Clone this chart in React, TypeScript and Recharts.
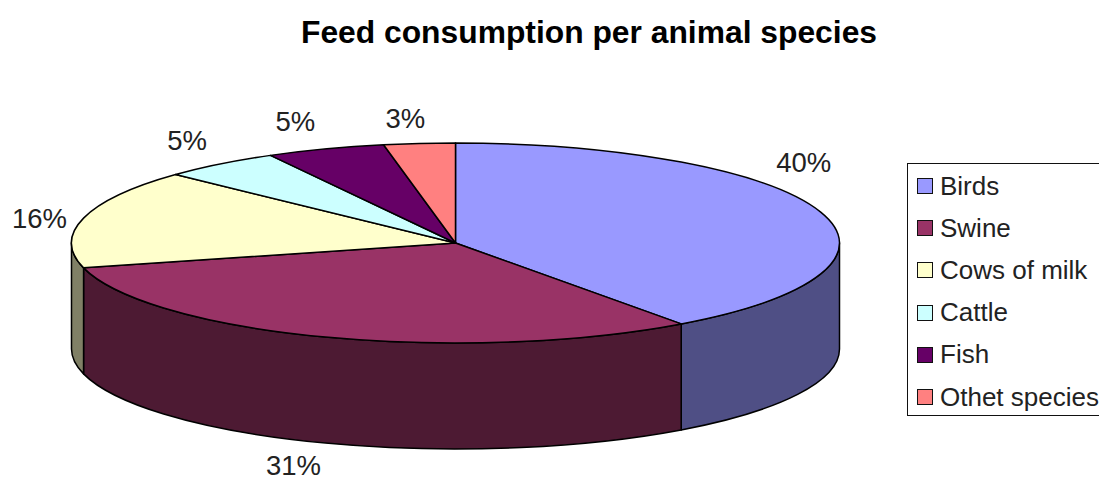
/**
 * Feed consumption per animal species
 * Excel style 3D pie drawn with Recharts custom sector shapes
 */

import React from 'react';
import { PieChart, Pie, Legend } from 'recharts';

const CATEGORIES = ['Birds', 'Swine', 'Cows of milk', 'Cattle', 'Fish', 'Othet species'];
const VALUES = [40, 31, 16, 5, 5, 3];
const TOP_COLORS = ['#9999ff', '#993366', '#ffffcc', '#ccffff', '#660066', '#ff8080'];
const SIDE_COLORS = ['#4f4f85', '#4d1a33', '#808066', '#668080', '#330033', '#804040'];

// label offsets from the rim point at each slice's middle angle
const LABEL_NUDGE = [
  [-17, -50],
  [-32, 128],
  [-44, 0],
  [-33, -23],
  [-30, -27],
  [-14, -25],
];

const WIDTH = 1099;
const HEIGHT = 481;
const CX = 455.5;
const CY = 243;
const RX = 384;
const RY = 100;
const DEPTH = 106;
const FONT = '"Liberation Sans", Arial, sans-serif';

const RAD = Math.PI / 180;

const topData = CATEGORIES.map((name, i) => ({ name, value: VALUES[i], fill: TOP_COLORS[i] }));
const sideData = CATEGORIES.map((name, i) => ({ name, value: VALUES[i], fill: SIDE_COLORS[i] }));

const rim = (cx: number, cy: number, rx: number, angle: number) => {
  const ry = (rx * RY) / RX;
  return { x: cx + rx * Math.cos(angle * RAD), y: cy - ry * Math.sin(angle * RAD) };
};

const TopSlice = (props: any) => {
  const { cx, cy, outerRadius, startAngle, endAngle, fill } = props;
  const ry = (outerRadius * RY) / RX;
  const a = rim(cx, cy, outerRadius, startAngle);
  const b = rim(cx, cy, outerRadius, endAngle);
  const large = Math.abs(startAngle - endAngle) > 180 ? 1 : 0;
  const d = `M${cx},${cy} L${a.x},${a.y} A${outerRadius},${ry} 0 ${large} 1 ${b.x},${b.y} Z`;
  return <path d={d} fill={fill} stroke="#000" strokeWidth={1.5} strokeLinejoin="round" />;
};

// only the part of a slice between 0 and -180 degrees faces the viewer
const SideSlice = (props: any) => {
  const { cx, cy, outerRadius, startAngle, endAngle, fill } = props;
  const from = Math.min(startAngle, 0);
  const to = Math.max(endAngle, -180);
  if (from <= to) return <g />;
  const ry = (outerRadius * RY) / RX;
  const a = rim(cx, cy, outerRadius, from);
  const b = rim(cx, cy, outerRadius, to);
  const d =
    `M${a.x},${a.y} A${outerRadius},${ry} 0 0 1 ${b.x},${b.y} ` +
    `L${b.x},${b.y + DEPTH} A${outerRadius},${ry} 0 0 0 ${a.x},${a.y + DEPTH} Z`;
  return <path d={d} fill={fill} stroke="#000" strokeWidth={1.5} strokeLinejoin="round" />;
};

const renderLabel = (props: any) => {
  const { cx, cy, outerRadius, midAngle, value, index } = props;
  const p = rim(cx, cy, outerRadius, midAngle);
  return (
    <text
      x={p.x + LABEL_NUDGE[index][0]}
      y={p.y + LABEL_NUDGE[index][1]}
      textAnchor="middle"
      dominantBaseline="central"
      fontFamily={FONT}
      fontSize={27.5}
      fill="#222"
    >
      {`${value}%`}
    </text>
  );
};

const renderLegend = () => (
  <div
    style={{
      boxSizing: 'border-box',
      width: 210,
      height: 253,
      border: '1.5px solid #111',
      background: '#fff',
      paddingTop: 1,
      fontFamily: FONT,
      fontSize: 26,
      color: '#222',
    }}
  >
    {CATEGORIES.map((name, i) => (
      <div key={name} style={{ display: 'flex', alignItems: 'center', height: 42.2, whiteSpace: 'nowrap' }}>
        <span
          style={{
            boxSizing: 'border-box',
            width: 16,
            height: 16,
            marginLeft: 9,
            marginRight: 7,
            background: TOP_COLORS[i],
            border: '1.2px solid #111',
          }}
        />
        {name}
      </div>
    ))}
  </div>
);

export default function App() {
  return (
    <div style={{ position: 'absolute', left: 0, top: 0, width: WIDTH, height: HEIGHT, overflow: 'hidden', background: '#fff' }}>
      <PieChart width={WIDTH} height={HEIGHT} margin={{ top: 0, right: 0, bottom: 0, left: 0 }}>
        <text x={589} y={32} textAnchor="middle" dominantBaseline="central" fontFamily={FONT} fontSize={31.8} fontWeight="bold" fill="#000">
          Feed consumption per animal species
        </text>
        <Pie
          data={sideData}
          dataKey="value"
          nameKey="name"
          cx={CX}
          cy={CY}
          innerRadius={0}
          outerRadius={RX}
          startAngle={90}
          endAngle={-270}
          paddingAngle={0}
          legendType="none"
          isAnimationActive={false}
          shape={SideSlice}
        />
        <Pie
          data={topData}
          dataKey="value"
          nameKey="name"
          cx={CX}
          cy={CY}
          innerRadius={0}
          outerRadius={RX}
          startAngle={90}
          endAngle={-270}
          paddingAngle={0}
          isAnimationActive={false}
          shape={TopSlice}
          label={renderLabel}
          labelLine={false}
        />
        <Legend
          content={renderLegend}
          layout="vertical"
          wrapperStyle={{ position: 'absolute', left: 907, top: 163, width: 210, height: 253, margin: 0 }}
        />
      </PieChart>
    </div>
  );
}
